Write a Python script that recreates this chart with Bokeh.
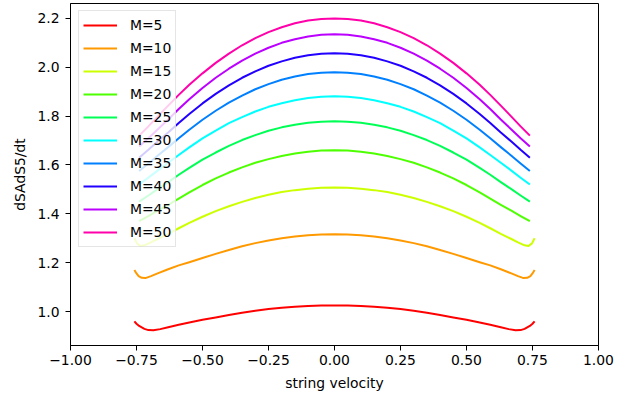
from bokeh.plotting import figure
from bokeh.models import FixedTicker, Legend, LegendItem, Range1d
from bokeh.embed import file_html
from bokeh.resources import INLINE

# ---- data ----
X_TICKS = [-1.0, -0.75, -0.5, -0.25, 0.0, 0.25, 0.5, 0.75, 1.0]
X_TICK_LABELS = ["\u22121.00", "\u22120.75", "\u22120.50", "\u22120.25", "0.00", "0.25", "0.50", "0.75", "1.00"]
Y_TICKS = [1.0, 1.2, 1.4, 1.6, 1.8, 2.0, 2.2]
Y_TICK_LABELS = ["1.0", "1.2", "1.4", "1.6", "1.8", "2.0", "2.2"]

LABELS = ["M=5", "M=10", "M=15", "M=20", "M=25", "M=30", "M=35", "M=40", "M=45", "M=50"]
COLORS = ["#ff0000", "#ff9900", "#ccff00", "#4dff00", "#00ff55", "#00ffff",
          "#0080ff", "#2200ff", "#bb00ff", "#ff00aa"]

X_5 = [-0.758, -0.75, -0.74, -0.72, -0.705, -0.686, -0.66, -0.63, -0.59, -0.55, -0.5,
       -0.45, -0.4, -0.35, -0.3, -0.25, -0.2, -0.15, -0.1, -0.05, 0.0,
       0.05, 0.1, 0.15, 0.2, 0.25, 0.3, 0.35, 0.4, 0.45, 0.5,
       0.55, 0.59, 0.63, 0.66, 0.686, 0.705, 0.72, 0.74, 0.75, 0.758]
Y_5 = [0.960, 0.950, 0.941, 0.929, 0.924, 0.923, 0.928, 0.936, 0.946, 0.955, 0.966,
       0.976, 0.986, 0.995, 1.003, 1.010, 1.016, 1.020, 1.023, 1.0245, 1.025,
       1.0245, 1.023, 1.020, 1.016, 1.010, 1.003, 0.995, 0.986, 0.976, 0.966,
       0.955, 0.946, 0.936, 0.928, 0.923, 0.924, 0.929, 0.941, 0.950, 0.960]

X_10 = [-0.758, -0.75, -0.742, -0.73, -0.716, -0.695, -0.67, -0.63, -0.59, -0.55, -0.5,
        -0.45, -0.4, -0.35, -0.3, -0.25, -0.2, -0.15, -0.1, -0.05, 0.0,
        0.05, 0.1, 0.15, 0.2, 0.25, 0.3, 0.35, 0.4, 0.45, 0.5,
        0.55, 0.59, 0.63, 0.67, 0.695, 0.716, 0.73, 0.742, 0.75, 0.758]
Y_10 = [1.170, 1.156, 1.145, 1.138, 1.137, 1.145, 1.156, 1.173, 1.189, 1.202, 1.219,
        1.236, 1.252, 1.267, 1.280, 1.291, 1.300, 1.307, 1.312, 1.315, 1.316,
        1.315, 1.312, 1.307, 1.300, 1.291, 1.280, 1.267, 1.252, 1.236, 1.219,
        1.202, 1.189, 1.173, 1.156, 1.145, 1.137, 1.138, 1.145, 1.156, 1.170]

X_15 = [-0.758, -0.748, -0.735, -0.72, -0.695, -0.67, -0.63, -0.59, -0.55, -0.5,
        -0.45, -0.4, -0.35, -0.3, -0.25, -0.2, -0.15, -0.1, -0.05, 0.0,
        0.05, 0.1, 0.15, 0.2, 0.25, 0.3, 0.35, 0.4, 0.45,
        0.5, 0.55, 0.59, 0.63, 0.67, 0.695, 0.72, 0.735, 0.748, 0.758]
Y_15 = [1.300, 1.279, 1.268, 1.271, 1.283, 1.297, 1.318, 1.341, 1.363, 1.388,
        1.411, 1.431, 1.449, 1.465, 1.478, 1.489, 1.497, 1.503, 1.507, 1.508,
        1.507, 1.503, 1.497, 1.489, 1.478, 1.465, 1.449, 1.431, 1.411,
        1.388, 1.363, 1.341, 1.318, 1.297, 1.283, 1.271, 1.268, 1.279, 1.300]

X_MID = [-0.74, -0.705, -0.67, -0.63, -0.59, -0.55, -0.5, -0.45, -0.4, -0.35, -0.3,
         -0.25, -0.2, -0.15, -0.1, -0.05, 0.0, 0.05, 0.1, 0.15, 0.2, 0.25,
         0.3, 0.35, 0.4, 0.45, 0.5, 0.55, 0.59, 0.63, 0.67, 0.705, 0.74]

Y_20 = [1.370, 1.391, 1.413, 1.437, 1.462, 1.488, 1.518, 1.545, 1.569, 1.590, 1.609,
        1.624, 1.637, 1.647, 1.654, 1.659, 1.660, 1.659, 1.654, 1.647, 1.637, 1.624,
        1.609, 1.590, 1.569, 1.545, 1.518, 1.488, 1.462, 1.437, 1.413, 1.391, 1.370]
Y_25 = [1.450, 1.475, 1.501, 1.530, 1.560, 1.588, 1.622, 1.651, 1.678, 1.702, 1.722,
        1.740, 1.754, 1.765, 1.773, 1.777, 1.779, 1.777, 1.773, 1.765, 1.754, 1.740,
        1.722, 1.702, 1.678, 1.651, 1.622, 1.588, 1.560, 1.530, 1.501, 1.475, 1.450]
Y_30 = [1.520, 1.548, 1.577, 1.609, 1.641, 1.672, 1.709, 1.741, 1.771, 1.796, 1.819,
        1.838, 1.853, 1.865, 1.874, 1.879, 1.881, 1.879, 1.874, 1.865, 1.853, 1.838,
        1.819, 1.796, 1.771, 1.741, 1.709, 1.672, 1.641, 1.609, 1.577, 1.548, 1.520]
Y_35 = [1.575, 1.606, 1.638, 1.673, 1.709, 1.744, 1.785, 1.822, 1.855, 1.884, 1.910,
        1.931, 1.949, 1.962, 1.972, 1.978, 1.980, 1.978, 1.972, 1.962, 1.949, 1.931,
        1.910, 1.884, 1.855, 1.822, 1.785, 1.744, 1.709, 1.673, 1.638, 1.606, 1.575]
Y_40 = [1.630, 1.662, 1.696, 1.733, 1.772, 1.809, 1.852, 1.891, 1.926, 1.957, 1.983,
        2.006, 2.024, 2.039, 2.049, 2.055, 2.057, 2.055, 2.049, 2.039, 2.024, 2.006,
        1.983, 1.957, 1.926, 1.891, 1.852, 1.809, 1.772, 1.733, 1.696, 1.662, 1.630]
Y_45 = [1.676, 1.709, 1.745, 1.786, 1.829, 1.869, 1.915, 1.957, 1.994, 2.027, 2.056,
        2.080, 2.100, 2.115, 2.126, 2.133, 2.135, 2.133, 2.126, 2.115, 2.100, 2.080,
        2.056, 2.027, 1.994, 1.957, 1.915, 1.869, 1.829, 1.786, 1.745, 1.709, 1.676]
Y_50 = [1.720, 1.758, 1.798, 1.843, 1.887, 1.928, 1.975, 2.018, 2.056, 2.090, 2.119,
        2.144, 2.164, 2.180, 2.191, 2.198, 2.200, 2.198, 2.191, 2.180, 2.164, 2.144,
        2.119, 2.090, 2.056, 2.018, 1.975, 1.928, 1.887, 1.843, 1.798, 1.758, 1.720]

SERIES_X = [X_5, X_10, X_15, X_MID, X_MID, X_MID, X_MID, X_MID, X_MID, X_MID]
SERIES_Y = [Y_5, Y_10, Y_15, Y_20, Y_25, Y_30, Y_35, Y_40, Y_45, Y_50]

FONT = "DejaVu Sans"
FS = "13.9px"

p = figure(width=639, height=400, output_backend="svg", toolbar_location=None,
           x_range=Range1d(-1, 1), y_range=Range1d(0.861, 2.261),
           min_border_left=70, min_border_right=41, min_border_top=3, min_border_bottom=55,
           background_fill_color="white", border_fill_color="white")

p.xgrid.visible = False
p.ygrid.visible = False
p.outline_line_color = "black"
p.outline_line_alpha = 1.0
p.outline_line_width = 1

p.xaxis.ticker = FixedTicker(ticks=X_TICKS)
p.xaxis.major_label_overrides = {t: l for t, l in zip(X_TICKS, X_TICK_LABELS)}
p.yaxis.ticker = FixedTicker(ticks=Y_TICKS)
p.yaxis.major_label_overrides = {t: l for t, l in zip(Y_TICKS, Y_TICK_LABELS)}

for ax in (p.xaxis[0], p.yaxis[0]):
    ax.axis_line_color = "black"
    ax.major_tick_line_color = "black"
    ax.major_tick_out = 5
    ax.major_tick_in = 0
    ax.minor_tick_line_color = None
    ax.major_label_text_font = FONT
    ax.major_label_text_font_size = FS
    ax.major_label_text_color = "black"
    ax.axis_label_text_font = FONT
    ax.axis_label_text_font_size = FS
    ax.axis_label_text_font_style = "normal"
    ax.axis_label_text_color = "black"

p.xaxis.major_label_standoff = 4
p.yaxis.major_label_standoff = 6
p.xaxis.axis_label = "string velocity"
p.yaxis.axis_label = "dSAdS5/dt"
p.xaxis.axis_label_standoff = 7
p.yaxis.axis_label_standoff = 6

items = []
for xs, ys, c, lab in zip(SERIES_X, SERIES_Y, COLORS, LABELS):
    r = p.line(xs, ys, line_color=c, line_width=2, line_join="round", line_cap="butt")
    items.append(LegendItem(label=lab, renderers=[r]))

legend = Legend(items=items, location=(8, 98))
legend.label_text_font = FONT
legend.label_text_font_size = FS
legend.label_text_color = "black"
legend.label_height = 20
legend.glyph_height = 20
legend.glyph_width = 34
legend.label_standoff = 13
legend.spacing = 3
legend.padding = 4
legend.margin = 0
legend.border_line_color = "#cccccc"
legend.border_line_width = 1
legend.background_fill_color = "white"
legend.background_fill_alpha = 0.8
p.add_layout(legend)

open("out.html", "w").write(file_html(p, INLINE))
